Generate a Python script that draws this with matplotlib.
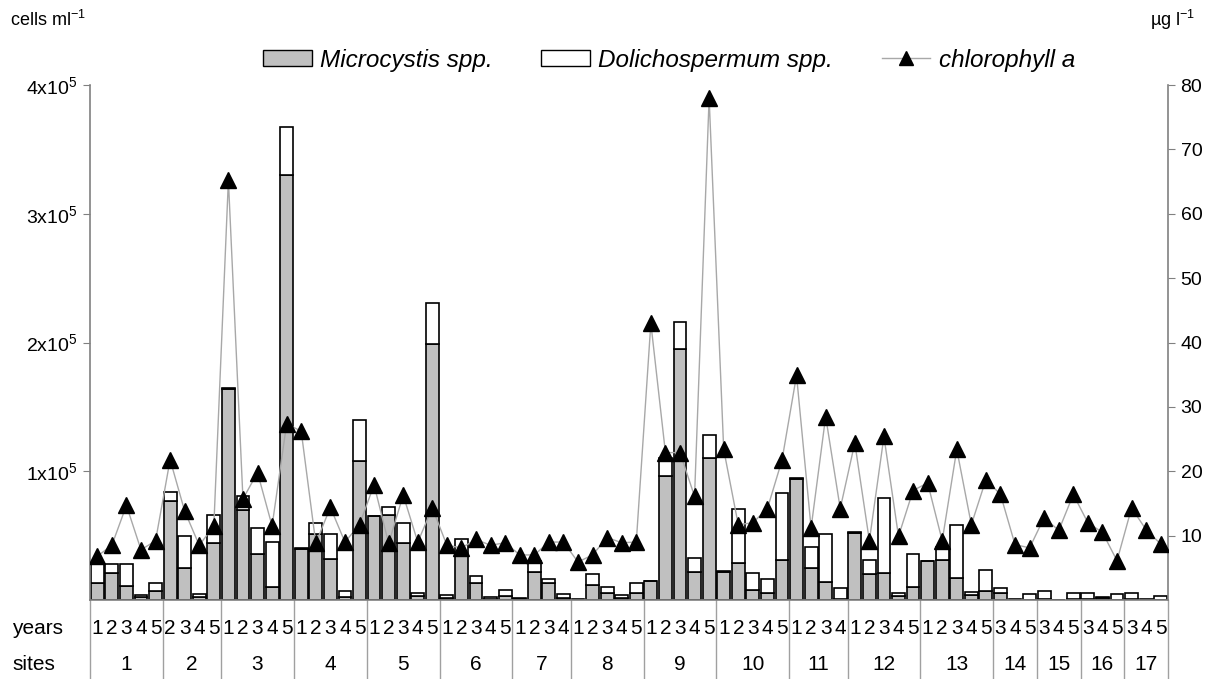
import numpy as np
import matplotlib
matplotlib.use("Agg")
import matplotlib.pyplot as plt
from matplotlib.patches import Patch
from matplotlib.lines import Line2D
import matplotlib.transforms as mtransforms

plt.rcParams['font.family'] = ['Liberation Sans', 'DejaVu Sans']
plt.rcParams['mathtext.fontset'] = 'custom'
plt.rcParams['mathtext.rm'] = 'Liberation Sans'
plt.rcParams['mathtext.it'] = 'Liberation Sans:italic'

# sites and the years sampled at each
sites = ['1', '2', '3', '4', '5', '6', '7', '8', '9', '10', '11', '12', '13', '14', '15', '16', '17']
site_years = [
    [1, 2, 3, 4, 5], [2, 3, 4, 5], [1, 2, 3, 4, 5], [1, 2, 3, 4, 5], [1, 2, 3, 4, 5],
    [1, 2, 3, 4, 5], [1, 2, 3, 4], [1, 2, 3, 4, 5], [1, 2, 3, 4, 5], [1, 2, 3, 4, 5],
    [1, 2, 3, 4], [1, 2, 3, 4, 5], [1, 2, 3, 4, 5], [3, 4, 5], [3, 4, 5], [3, 4, 5], [3, 4, 5],
]

# Microcystis spp. (x1000 cells ml-1)
microcystis = [
    13, 21, 11, 2.5, 7,          # 1
    77, 25, 2, 44,               # 2
    164, 70, 36, 10, 330,        # 3
    40, 51, 32, 2.5, 108,        # 4
    65, 66, 44, 3, 199,          # 5
    1.7, 35, 13, 1, 3,           # 6
    0.4, 22, 13, 1.7,            # 7
    0.2, 11.5, 5.6, 1.7, 5.6,    # 8
    14.5, 96, 195, 22, 110,      # 9
    22, 29, 8, 5.6, 31,          # 10
    94, 25, 14, 0.5,             # 11
    52, 20, 21, 3, 10,           # 12
    30, 31, 17, 3.5, 7,          # 13
    5.6, 0.3, 0.3,               # 14
    0.5, 0, 0.5,                 # 15
    0.5, 1.7, 0.3,               # 16
    0.5, 0.2, 0.3,               # 17
]

# Dolichospermum spp. (x1000 cells ml-1)
dolichospermum = [
    16, 7, 17, 1, 6,
    7, 25, 3, 22,
    1, 11, 20, 35, 37,
    0.5, 9, 19, 4.5, 32,
    0.5, 6, 16, 2.6, 32,
    1.8, 12, 6, 1.5, 5,
    0.8, 8, 3, 2.6,
    0.3, 8.5, 4.4, 1.8, 7.4,
    0.5, 14, 21, 11, 18,
    0.5, 42, 13, 10.4, 52,
    1, 16, 37, 9,
    0.5, 11, 58, 2.6, 26,
    0.5, 10, 41, 2.5, 16,
    3.9, 0.7, 4.7,
    6.3, 0, 5.1,
    5.1, 0.8, 4,
    5.1, 0.2, 2.7,
]

# chlorophyll a (ug l-1)
chlorophyll = [
    6.8, 8.5, 14.7, 7.8, 9.2,
    21.8, 13.8, 8.5, 11.5,
    65.2, 15.7, 19.8, 11.5, 27.4,
    26.2, 8.8, 14.4, 9.0, 11.7,
    17.9, 8.8, 16.3, 9.0, 14.3,
    8.5, 8.1, 9.4, 8.5, 8.9,
    7.0, 7.0, 9.0, 9.0,
    5.9, 7.0, 9.7, 8.9, 9.0,
    43.0, 22.9, 22.9, 16.1, 78.0,
    23.4, 11.7, 12.0, 14.2, 21.7,
    34.9, 11.2, 28.5, 14.2,
    24.4, 9.2, 25.4, 9.9, 17.0,
    18.2, 9.2, 23.4, 11.7, 18.7,
    16.4, 8.6, 8.1,
    12.8, 10.8, 16.4,
    12.0, 10.5, 6.1,
    14.3, 10.9, 8.7,
]

micro = np.array(microcystis) * 1000
doli = np.array(dolichospermum) * 1000
x = np.arange(len(micro))

fig = plt.figure(figsize=(12.12, 6.79), dpi=100)
ax = fig.add_axes([90/1212, 1 - 600/679, (1168-90)/1212, (600-85)/679])

ax.bar(x, micro, width=0.88, color='#c0c0c0', edgecolor='black', linewidth=1.2, zorder=2)
ax.bar(x, doli, bottom=micro, width=0.88, color='white', edgecolor='black', linewidth=1.2, zorder=2)

ax.set_xlim(-0.5, len(x) - 0.5)
ax.set_ylim(0, 4e5)
ax.set_yticks([1e5, 2e5, 3e5, 4e5])
ax.set_yticklabels(['1x10$^5$', '2x10$^5$', '3x10$^5$', '4x10$^5$'], fontsize=14)
ax.set_xticks([])
for s in ['top', 'right']:
    ax.spines[s].set_visible(False)
for s in ['left', 'bottom']:
    ax.spines[s].set_color('#808080')
    ax.spines[s].set_linewidth(1.2)
ax.tick_params(axis='y', direction='out', length=5, color='#808080', pad=4)

ax2 = ax.twinx()
ax2.plot(x, chlorophyll, color='#a8a8a8', lw=1, marker='^', ms=11,
         markerfacecolor='black', markeredgecolor='black', zorder=3)
ax2.set_ylim(0, 80)
ax2.set_yticks([10, 20, 30, 40, 50, 60, 70, 80])
ax2.tick_params(axis='y', direction='out', length=5, color='#808080', labelsize=14, pad=4)
for s in ['top', 'left', 'bottom']:
    ax2.spines[s].set_visible(False)
ax2.spines['right'].set_color('#808080')
ax2.spines['right'].set_linewidth(1.2)

# year and site labels under the axis, with separators
trans = mtransforms.blended_transform_factory(ax.transData, ax.transAxes)
pos = 0
bounds = [-0.5]
for site, yrs in zip(sites, site_years):
    for k, yr in enumerate(yrs):
        ax.text(pos + k, -0.056, str(yr), transform=trans, ha='center', va='center', fontsize=15)
    ax.text(pos + (len(yrs) - 1) / 2, -0.126, site, transform=trans, ha='center', va='center', fontsize=15)
    pos += len(yrs)
    bounds.append(pos - 0.5)
for b in bounds:
    ax.add_line(Line2D([b, b], [0, -0.16], transform=trans, color='#a0a0a0', lw=1, clip_on=False))

fig.text(12/1212, 1 - 629/679, 'years', fontsize=15, va='center')
fig.text(12/1212, 1 - 665/679, 'sites', fontsize=15, va='center')
fig.text(10/1212, 1 - 20/679, 'cells ml$^{-1}$', fontsize=13, va='center')
fig.text(1150/1212, 1 - 20/679, '\u00b5g l$^{-1}$', fontsize=13, va='center')

handles = [
    Patch(facecolor='#c0c0c0', edgecolor='black', label='Microcystis spp.'),
    Patch(facecolor='white', edgecolor='black', label='Dolichospermum spp.'),
    Line2D([], [], color='#a8a8a8', lw=1, marker='^', ms=10, markerfacecolor='black',
           markeredgecolor='black', label='chlorophyll a'),
]
fig.legend(handles=handles, loc='center', bbox_to_anchor=(0.552, 1 - 60/679), ncol=3,
           frameon=False, prop={'style': 'italic', 'size': 17.5}, handlelength=2.0,
           handleheight=0.6, columnspacing=2.0, handletextpad=0.35)

fig.savefig('out.png', dpi=100)
